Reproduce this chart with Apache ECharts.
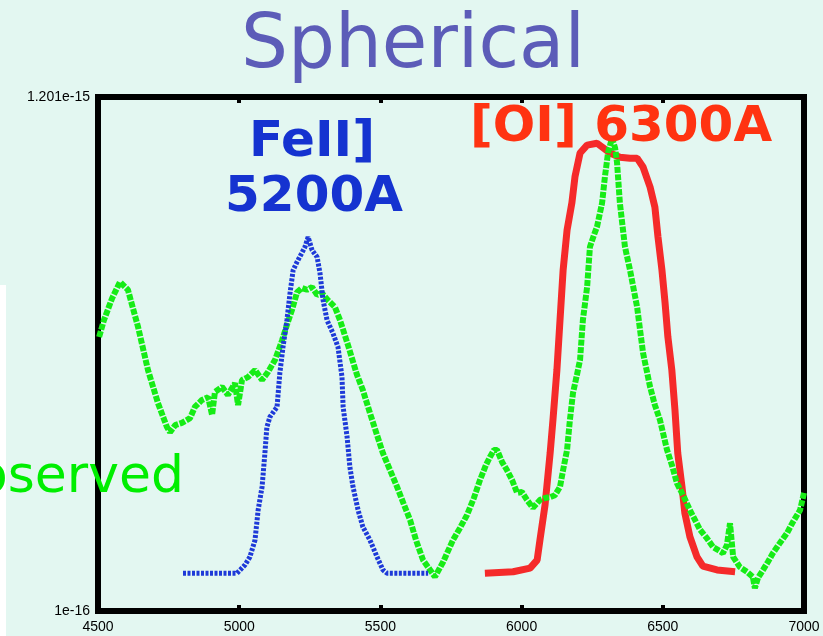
<!DOCTYPE html>
<html>
<head>
<meta charset="utf-8">
<script src="https://cdn.jsdelivr.net/npm/echarts@6/dist/echarts.min.js"></script>
<style>
  html, body { margin: 0; padding: 0; background: #e3f7f1; }
  #chart { width: 823px; height: 636px; }
</style>
</head>
<body>
<div id="chart"></div>
<script>
// wavelength (A) and flux (units of 1e-16)
var obsWave = [4504, 4521, 4550, 4578, 4606, 4642, 4677, 4712, 4744, 4755, 4773, 4797, 4826, 4843, 4868, 4890, 4904, 4914, 4939, 4960, 4985, 4996, 5010, 5031, 5056, 5081, 5102, 5127, 5152, 5169, 5187, 5205, 5222, 5240, 5258, 5276, 5293, 5314, 5339, 5357, 5385, 5417, 5438, 5463, 5488, 5509, 5534, 5559, 5584, 5605, 5626, 5651, 5676, 5693, 5722, 5757, 5782, 5807, 5831, 5853, 5874, 5888, 5902, 5913, 5931, 5948, 5966, 5984, 6001, 6019, 6040, 6065, 6083, 6101, 6118, 6136, 6147, 6161, 6171, 6182, 6196, 6207, 6217, 6232, 6242, 6256, 6267, 6285, 6295, 6306, 6320, 6331, 6338, 6348, 6366, 6384, 6409, 6430, 6455, 6472, 6490, 6515, 6532, 6550, 6575, 6596, 6632, 6656, 6678, 6695, 6713, 6727, 6738, 6749, 6773, 6798, 6819, 6826, 6837, 6855, 6872, 6890, 6915, 6940, 6961, 6986, 7000];
var obsFlux = [6.87, 7.23, 7.70, 8.05, 7.88, 7.08, 6.16, 5.46, 4.94, 4.83, 4.98, 5.03, 5.13, 5.37, 5.52, 5.58, 5.20, 5.69, 5.80, 5.63, 5.88, 5.41, 5.95, 6.01, 6.16, 5.95, 6.12, 6.38, 6.80, 7.13, 7.45, 7.83, 7.92, 7.88, 7.94, 7.77, 7.81, 7.66, 7.51, 7.23, 6.70, 6.06, 5.73, 5.24, 4.77, 4.38, 4.02, 3.66, 3.27, 2.95, 2.52, 2.09, 1.88, 1.73, 2.05, 2.52, 2.78, 3.06, 3.42, 3.81, 4.13, 4.30, 4.45, 4.45, 4.19, 4.02, 3.81, 3.53, 3.55, 3.38, 3.21, 3.38, 3.42, 3.44, 3.48, 3.66, 4.02, 4.45, 5.09, 5.67, 6.06, 6.38, 7.23, 7.94, 8.80, 9.05, 9.23, 9.74, 10.30, 10.81, 11.13, 10.92, 10.60, 9.74, 8.80, 8.30, 7.51, 6.53, 5.80, 5.41, 5.09, 4.45, 4.13, 3.74, 3.44, 3.16, 2.74, 2.56, 2.37, 2.31, 2.24, 2.41, 2.88, 2.16, 1.94, 1.84, 1.73, 1.49, 1.71, 1.88, 2.05, 2.24, 2.46, 2.67, 2.91, 3.16, 3.53];

var feWave = [4801, 4992, 5021, 5038, 5056, 5067, 5081, 5091, 5098, 5109, 5134, 5144, 5155, 5169, 5180, 5191, 5205, 5222, 5233, 5244, 5258, 5276, 5286, 5297, 5311, 5332, 5350, 5364, 5368, 5382, 5392, 5403, 5421, 5438, 5463, 5488, 5509, 5523, 5669];
var feFlux = [1.81, 1.81, 1.99, 2.16, 2.52, 3.16, 3.66, 4.38, 4.94, 5.16, 5.37, 6.10, 6.65, 7.23, 7.81, 8.30, 8.48, 8.67, 8.80, 9.01, 8.73, 8.58, 8.24, 7.66, 7.23, 6.95, 6.65, 6.01, 5.37, 4.73, 4.08, 3.66, 3.16, 2.80, 2.52, 2.16, 1.88, 1.81, 1.81];

var oiWave = [5870, 5970, 6030, 6055, 6065, 6083, 6101, 6111, 6125, 6136, 6147, 6161, 6178, 6189, 6207, 6232, 6267, 6285, 6313, 6348, 6384, 6409, 6430, 6455, 6472, 6483, 6497, 6508, 6518, 6532, 6543, 6553, 6568, 6578, 6596, 6621, 6642, 6692, 6756];
var oiFlux = [1.81, 1.84, 1.92, 2.09, 2.52, 3.27, 4.38, 5.09, 6.16, 7.23, 8.30, 9.16, 9.74, 10.30, 10.81, 10.98, 11.02, 10.94, 10.81, 10.72, 10.70, 10.70, 10.51, 10.08, 9.65, 9.01, 8.30, 7.60, 6.87, 6.16, 5.31, 4.38, 3.66, 3.10, 2.59, 2.16, 1.96, 1.88, 1.84];

var yTickValues = [1, 12.01];
var yTickLabels = ['1e-16', '1.201e-15'];

function pairs(xs, ys) {
  return xs.map(function (x, i) { return [x, ys[i]]; });
}

var chart = echarts.init(document.getElementById('chart'));

var labelFont = 'Liberation Sans, Arial, sans-serif';

var option = {
  animation: false,
  backgroundColor: '#e3f7f1',
  grid: {
    left: 98, right: 19, top: 97, bottom: 25,
    show: true,
    borderColor: '#000',
    borderWidth: 6,
    backgroundColor: 'transparent'
  },
  xAxis: [{
    type: 'value',
    min: 4500, max: 7000, interval: 500,
    axisLine: { show: false },
    axisTick: { show: true, inside: true, length: 6, lineStyle: { color: '#000', width: 4 } },
    splitLine: { show: false },
    axisLabel: {
      color: '#000', fontSize: 14, fontFamily: labelFont, margin: 9,
      formatter: function (v) { return String(v); }
    }
  }, {
    type: 'value', position: 'top',
    min: 4500, max: 7000, interval: 500,
    axisLine: { show: false },
    axisTick: { show: true, inside: true, length: 6, lineStyle: { color: '#000', width: 4 } },
    splitLine: { show: false },
    axisLabel: { show: false }
  }],
  yAxis: {
    type: 'value',
    min: 1, max: 12.01,
    axisLine: { show: false },
    axisTick: { show: false },
    splitLine: { show: false },
    axisLabel: {
      customValues: yTickValues,
      color: '#000', fontSize: 14, margin: 8, fontFamily: labelFont,
      formatter: function (v) {
        var i = yTickValues.indexOf(v);
        return i >= 0 ? yTickLabels[i] : '';
      }
    }
  },
  graphic: [
    { type: 'rect', left: 0, top: 285, shape: { width: 6, height: 351 }, style: { fill: '#ffffff' }, z: -1 },
    { type: 'text', x: 413, y: 48, style: { text: 'Spherical', fill: '#5c5cb8', font: '74px "DejaVu Sans", sans-serif', align: 'center', verticalAlign: 'middle' } },
    { type: 'text', x: 184, y: 478, style: { text: 'observed', fill: '#00ee00', font: '52px "DejaVu Sans", sans-serif', align: 'right', verticalAlign: 'middle' } },
    { type: 'text', x: 312, y: 143, z: 10, style: { text: 'FeII]', fill: '#1533d0', font: 'bold 50px "DejaVu Sans", sans-serif', align: 'center', verticalAlign: 'middle' } },
    { type: 'text', x: 314, y: 198, z: 10, style: { text: '5200A', fill: '#1533d0', font: 'bold 50px "DejaVu Sans", sans-serif', align: 'center', verticalAlign: 'middle' } },
    { type: 'text', x: 470, y: 128, z: 10, style: { text: '[OI] 6300A', fill: '#ff3311', font: 'bold 50px "DejaVu Sans", sans-serif', align: 'left', verticalAlign: 'middle' } }
  ],
  series: [{
    name: 'observed',
    type: 'line',
    data: pairs(obsWave, obsFlux),
    showSymbol: false,
    lineStyle: { color: '#16ec16', width: 6, type: [6, 1.5] },
    z: 3
  }, {
    name: 'FeII] 5200A',
    type: 'line',
    data: pairs(feWave, feFlux),
    showSymbol: false,
    lineStyle: { color: '#1e3ad8', width: 5, type: [3, 1.5] },
    z: 4
  }, {
    name: '[OI] 6300A',
    type: 'line',
    data: pairs(oiWave, oiFlux),
    showSymbol: false,
    lineStyle: { color: '#f52a2a', width: 7 },
    z: 2
  }]
};
chart.setOption(option);
</script>
</body>
</html>
